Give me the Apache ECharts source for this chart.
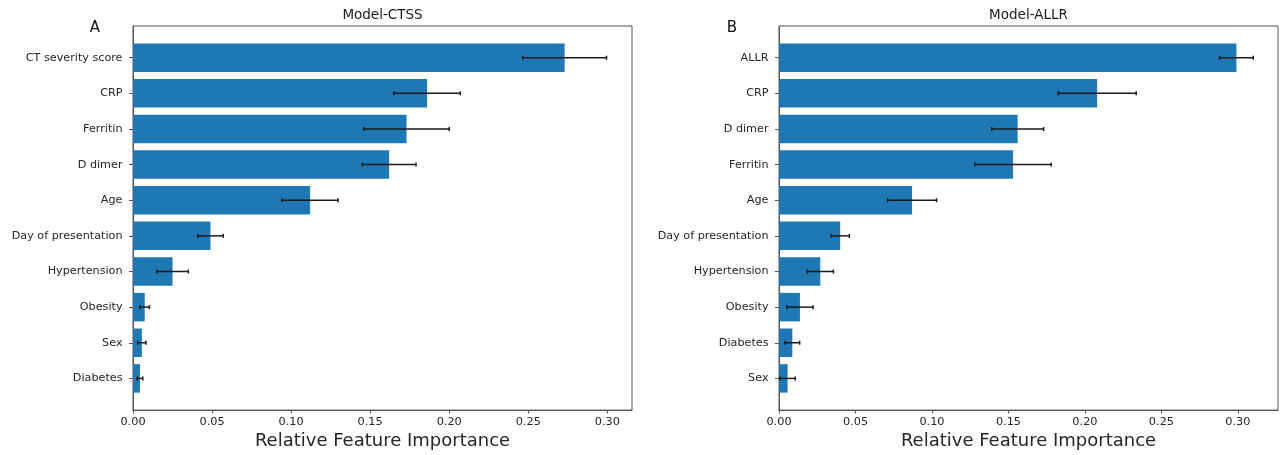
<!DOCTYPE html>
<html><head><meta charset="utf-8">
<script src="https://cdn.jsdelivr.net/npm/echarts@6/dist/echarts.min.js"></script>
<style>html,body{margin:0;padding:0;background:#fff}#c{width:1282px;height:455px}</style>
</head><body><div id="c"></div>
<script>
const catsA = ['CT severity score','CRP','Ferritin','D dimer','Age','Day of presentation','Hypertension','Obesity','Sex','Diabetes'];
const valsA = [0.273,0.186,0.173,0.162,0.112,0.049,0.025,0.0074,0.0056,0.0044];
const errsA = [0.0265,0.021,0.027,0.017,0.0177,0.0081,0.010,0.003,0.0026,0.0018];
const catsB = ['ALLR','CRP','D dimer','Ferritin','Age','Day of presentation','Hypertension','Obesity','Diabetes','Sex'];
const valsB = [0.299,0.208,0.156,0.153,0.087,0.040,0.027,0.0137,0.0087,0.0056];
const errsB = [0.011,0.0255,0.017,0.025,0.016,0.006,0.0086,0.0086,0.0048,0.005];
const xTicks = [0,0.05,0.10,0.15,0.20,0.25,0.30];
const titles = ['Model-CTSS','Model-ALLR'];
const panelLetters = ['A','B'];
const xName = 'Relative Feature Importance';

const FONT = 'DejaVu Sans';
const TXT = '#262626';
const LINE = '#555';
const chart = echarts.init(document.getElementById('c'), null, {renderer:'canvas'});

const grids = [
  {left:133, top:26, width:499, height:388},
  {left:779, top:26, width:499, height:388}
];
const xMax = [0.3156, 0.3262];
const panels = [[catsA,valsA,errsA],[catsB,valsB,errsB]];

function barItem(params, api){
  const v = api.value(0), i = api.value(1);
  const p0 = api.coord([0, i - 0.4]);
  const p1 = api.coord([v, i + 0.4]);
  return {type:'rect', shape:{x:p0[0], y:Math.min(p0[1],p1[1]), width:p1[0]-p0[0], height:Math.abs(p1[1]-p0[1])},
    style:{fill:'#1f77b4'}};
}
function errItem(params, api){
  const v = api.value(0), i = api.value(1), e = api.value(2);
  const a = api.coord([v - e, i]);
  const b = api.coord([v + e, i]);
  const st = {stroke:'#1a1a1a', lineWidth:1.5};
  return {type:'group', children:[
    {type:'line', shape:{x1:a[0], y1:a[1], x2:b[0], y2:b[1]}, style:st},
    {type:'line', shape:{x1:a[0], y1:a[1]-2, x2:a[0], y2:a[1]+2}, style:st},
    {type:'line', shape:{x1:b[0], y1:b[1]-2, x2:b[0], y2:b[1]+2}, style:st}
  ]};
}

const xAxis = [], yAxis = [], series = [], graphic = [];
panels.forEach(([cats, vals, errs], k) => {
  xAxis.push({type:'value', gridIndex:k, min:0, max:xMax[k], position:'bottom',
    name:xName, nameLocation:'middle', nameGap:19.5,
    nameTextStyle:{fontFamily:FONT, fontSize:18, color:TXT},
    axisLine:{show:true, onZero:false, lineStyle:{color:LINE, width:1}},
    axisTick:{show:true, length:3.5, customValues:xTicks, lineStyle:{color:LINE}},
    axisLabel:{customValues:xTicks, formatter:v=>v.toFixed(2), fontFamily:FONT, fontSize:11.3, color:TXT, margin:6},
    splitLine:{show:false}});
  yAxis.push({type:'value', gridIndex:k, inverse:true, min:-0.89, max:9.89, position:'left',
    axisLine:{show:true, onZero:false, lineStyle:{color:LINE, width:1}},
    axisTick:{show:true, length:4, customValues:cats.map((c,i)=>i), lineStyle:{color:LINE}},
    axisLabel:{customValues:cats.map((c,i)=>i), formatter:v=>cats[Math.round(v)], fontFamily:FONT, fontSize:11.2, color:TXT, margin:10.5},
    splitLine:{show:false}});
  series.push({type:'custom', xAxisIndex:k, yAxisIndex:k, renderItem:barItem,
    encode:{x:0, y:1}, data:vals.map((v,i)=>[v,i]), z:2});
  series.push({type:'custom', xAxisIndex:k, yAxisIndex:k, renderItem:errItem,
    encode:{x:0, y:1}, data:vals.map((v,i)=>[v,i,errs[i]]), z:3});
  const g = grids[k];
  graphic.push({type:'text', x:g.left + g.width/2, y:15, style:{text:titles[k], font:'13.5px "DejaVu Sans"', fill:'#1a1a1a', align:'center', verticalAlign:'middle', textAlign:'center', textVerticalAlign:'middle'}});
  graphic.push({type:'text', x:[95,732][k], y:28, style:{text:panelLetters[k], font:'15px "DejaVu Sans"', fill:'#111', align:'center', verticalAlign:'middle', textAlign:'center', textVerticalAlign:'middle'}});
});

chart.setOption({
  animation:false,
  grid: grids.map(g=>Object.assign({show:true, borderColor:LINE, borderWidth:1, backgroundColor:'transparent'}, g)),
  xAxis, yAxis, series, graphic
});
</script></body></html>
